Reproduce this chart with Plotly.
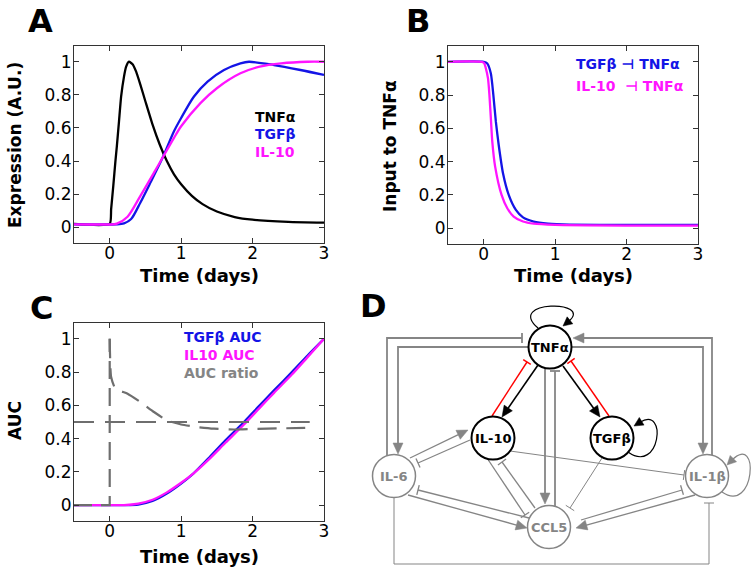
import math
import plotly.graph_objects as go

W, H = 754, 572
FONT = "DejaVu Sans"
BLUE = "#1414e6"
MAG = "#ff14ff"
GRAY = "#858585"
DGRAY = "#6e6e6e"
RED = "#ff0000"

# ---------------- Panel A : expression ----------------
a_tnf_t = [-0.5, 0, 0.02, 0.05, 0.08, 0.1, 0.13, 0.16, 0.2, 0.23, 0.27, 0.32, 0.37, 0.43, 0.5, 0.6, 0.7, 0.8, 0.9, 1.0, 1.15, 1.3, 1.5, 1.75, 2.0, 2.5, 3.0]
a_tnf_v = [0.02, 0.02, 0.11, 0.25, 0.4, 0.49, 0.64, 0.79, 0.91, 0.97, 1.0, 0.985, 0.94, 0.86, 0.76, 0.62, 0.5, 0.4, 0.32, 0.26, 0.19, 0.14, 0.095, 0.062, 0.046, 0.033, 0.028]
a_tgf_t = [-0.5, 0.1, 0.2, 0.3, 0.43, 0.57, 0.74, 0.9, 1.0, 1.18, 1.37, 1.6, 1.83, 1.95, 2.3, 2.67, 3.0]
a_tgf_v = [0.018, 0.018, 0.024, 0.05, 0.15, 0.27, 0.42, 0.58, 0.66, 0.79, 0.88, 0.95, 0.99, 1.0, 0.98, 0.95, 0.92]
a_il10_t = [-0.5, 0.05, 0.1, 0.25, 0.43, 0.62, 0.74, 0.9, 1.0, 1.27, 1.5, 1.83, 2.1, 2.4, 2.77, 3.0]
a_il10_v = [0.018, 0.018, 0.022, 0.064, 0.19, 0.33, 0.42, 0.54, 0.61, 0.75, 0.84, 0.93, 0.97, 0.99, 1.0, 1.0]

# ---------------- Panel B : input to TNFa ----------------
b_tgf_t = [-0.5, 0, 0.05, 0.1, 0.135, 0.17, 0.21, 0.27, 0.35, 0.45, 0.55, 0.7, 0.9, 1.2, 2.0, 3.0]
b_tgf_v = [1.0, 1.0, 0.99, 0.93, 0.8, 0.64, 0.5, 0.33, 0.2, 0.11, 0.065, 0.04, 0.028, 0.022, 0.02, 0.02]
b_il10_t = [-0.5, 0, 0.03, 0.06, 0.08, 0.1, 0.12, 0.16, 0.25, 0.33, 0.42, 0.55, 0.7, 1.0, 2.0, 3.0]
b_il10_v = [1.0, 0.995, 0.96, 0.9, 0.8, 0.66, 0.52, 0.37, 0.2, 0.12, 0.07, 0.04, 0.027, 0.02, 0.016, 0.015]

# ---------------- Panel C : AUC ----------------
c_t = [-0.5, 0, 0.2, 0.4, 0.6, 0.8, 1.0, 1.17, 1.4, 1.62, 1.88, 2.1, 2.3, 2.55, 2.77, 3.0]
c_tgf_auc = [0, 0, 0, 0.004, 0.025, 0.07, 0.13, 0.19, 0.29, 0.39, 0.5, 0.6, 0.69, 0.8, 0.9, 1.0]
c_il10_auc = [0, 0, 0.001, 0.01, 0.033, 0.077, 0.135, 0.19, 0.28, 0.375, 0.485, 0.585, 0.675, 0.785, 0.89, 1.0]
c_ratio_t = [0, 0.02, 0.08, 0.25, 0.43, 0.62, 0.8, 1.0, 1.22, 1.46, 1.74, 2.0, 2.4, 2.85]
c_ratio_v = [1.0, 0.77, 0.7, 0.67, 0.62, 0.56, 0.51, 0.485, 0.47, 0.46, 0.455, 0.458, 0.462, 0.465]
c_onset_t = [-0.5, 0, 0]
c_onset_v = [0, 0, 1]
c_half_t = [-0.5, 2.8]
c_half_v = [0.5, 0.5]

x_ticks = [0, 1, 2, 3]
y_ticks = [0, 0.2, 0.4, 0.6, 0.8, 1]
y_ticktext = ["0", "0.2", "0.4", "0.6", "0.8", "1"]

# ---------------- Panel D : network ----------------
nodes = {
    "TNFα": (550, 347, "black"),
    "IL-10": (493, 438, "black"),
    "TGFβ": (612, 438, "black"),
    "IL-6": (394, 476, "gray"),
    "IL-1β": (707, 476, "gray"),
    "CCL5": (549, 527, "gray"),
}
NODE_R = 21.5

# (polyline points, end type, colour, width)
edges = [
    ([(538, 365), (502, 417)], "arrow", "black", 1.6),
    ([(492, 416), (527, 362)], "tbar", RED, 1.4),
    ([(563, 366), (600, 417)], "arrow", "black", 1.6),
    ([(609, 416), (571, 361)], "tbar", RED, 1.4),
    ([(387, 456), (387, 338), (522, 338)], "tbar", GRAY, 1.8),
    ([(528, 347), (398, 347), (398, 454)], "arrow", GRAY, 1.8),
    ([(712, 456), (712, 338), (573, 338)], "arrow", GRAY, 1.8),
    ([(572, 347), (703, 347), (703, 454)], "arrow", GRAY, 1.8),
    ([(545, 368), (545, 504)], "arrow", GRAY, 1.8),
    ([(555, 506), (555, 371)], "tbar", GRAY, 1.8),
    ([(510, 451), (684, 475)], "tbar", GRAY, 1.0),
    ([(602, 458), (570, 508)], "tbar", GRAY, 1.0),
    ([(487, 458), (525, 515)], "tbar", GRAY, 1.3),
    ([(535, 508), (502, 462)], "tbar", GRAY, 1.3),
    ([(410, 458), (468, 430)], "arrow", GRAY, 1.3),
    ([(470, 440), (418, 463)], "tbar", GRAY, 1.3),
    ([(408, 495), (527, 528)], "arrow", GRAY, 1.3),
    ([(529, 518), (418, 490)], "tbar", GRAY, 1.3),
    ([(695, 495), (576, 528)], "arrow", GRAY, 1.3),
    ([(581, 520), (682, 490)], "tbar", GRAY, 1.3),
    ([(394, 497), (394, 564), (709, 564), (709, 503)], "tbar", GRAY, 1.0),
]
# self loops: cubic bezier (p0, c1, c2, p3)
loops = [
    ((538, 328), (505, 300), (595, 300), (563, 326)),
    ((628, 452), (660, 475), (668, 405), (634, 426)),
    ((722, 492), (755, 515), (760, 432), (727, 465)),
]

fig = go.Figure()


def px_dom_x(a, b):
    return [a / W, b / W]


def px_dom_y(top, bottom):
    return [1 - bottom / H, 1 - top / H]


panels = {
    "": (74, 324, 46, 243),
    "2": (448, 698, 46, 244),
    "3": (74, 324, 323, 521),
}

for key, (x0, x1, y0, y1) in panels.items():
    common = dict(
        showline=True, linecolor="#333333", linewidth=1, mirror="allticks",
        ticks="inside", ticklen=5, tickcolor="#333333", showgrid=False,
        zeroline=False, tickfont=dict(family=FONT, size=17, color="black"),
        automargin=False, fixedrange=True,
    )
    fig.update_layout(**{
        "xaxis" + key: dict(domain=px_dom_x(x0, x1), range=[-0.5, 3], tickvals=x_ticks,
                            ticktext=[str(v) for v in x_ticks], anchor="y" + key,
                            ticklabelstandoff=-5, **common),
        "yaxis" + key: dict(domain=px_dom_y(y0, y1), range=[-0.095, 1.095], tickvals=y_ticks,
                            ticktext=y_ticktext, anchor="x" + key,
                            ticklabelstandoff=-2, **common),
    })

# Panel A traces
fig.add_trace(go.Scatter(x=a_tnf_t, y=a_tnf_v, mode="lines", line=dict(color="black", width=2.3, shape="spline", smoothing=0.5), xaxis="x", yaxis="y"))
fig.add_trace(go.Scatter(x=a_tgf_t, y=a_tgf_v, mode="lines", line=dict(color=BLUE, width=2.3, shape="spline", smoothing=0.8), xaxis="x", yaxis="y"))
fig.add_trace(go.Scatter(x=a_il10_t, y=a_il10_v, mode="lines", line=dict(color=MAG, width=2.3, shape="spline", smoothing=0.8), xaxis="x", yaxis="y"))

# Panel B traces
fig.add_trace(go.Scatter(x=b_tgf_t, y=b_tgf_v, mode="lines", line=dict(color=BLUE, width=2.3, shape="spline", smoothing=0.6), xaxis="x2", yaxis="y2"))
fig.add_trace(go.Scatter(x=b_il10_t, y=b_il10_v, mode="lines", line=dict(color=MAG, width=2.3, shape="spline", smoothing=0.6), xaxis="x2", yaxis="y2"))

# Panel C traces
fig.add_trace(go.Scatter(x=c_t, y=c_tgf_auc, mode="lines", line=dict(color=BLUE, width=2.3, shape="spline", smoothing=0.7), xaxis="x3", yaxis="y3"))
fig.add_trace(go.Scatter(x=c_t, y=c_il10_auc, mode="lines", line=dict(color=MAG, width=2.3, shape="spline", smoothing=0.7), xaxis="x3", yaxis="y3"))
fig.add_trace(go.Scatter(x=c_half_t, y=c_half_v, mode="lines", line=dict(color=DGRAY, width=1.8, dash="20px,11px"), xaxis="x3", yaxis="y3"))
fig.add_trace(go.Scatter(x=c_onset_t, y=c_onset_v, mode="lines", line=dict(color=DGRAY, width=2.2, dash="18px,9px"), xaxis="x3", yaxis="y3"))
fig.add_trace(go.Scatter(x=c_ratio_t, y=c_ratio_v, mode="lines", line=dict(color=DGRAY, width=2.2, dash="19px,10px", shape="spline", smoothing=0.5), xaxis="x3", yaxis="y3"))

# Panel D: hidden axes in window-pixel units
fig.update_layout(
    xaxis4=dict(domain=[0, 1], range=[0, W], visible=False, anchor="y4", fixedrange=True),
    yaxis4=dict(domain=[0, 1], range=[H, 0], visible=False, anchor="x4", fixedrange=True),
)
fig.add_trace(go.Scatter(x=[1], y=[1], mode="markers", marker=dict(opacity=0), xaxis="x4", yaxis="y4", hoverinfo="skip"))

shapes = []


def add_path(d, color, width, fill=None):
    shapes.append(dict(type="path", path=d, xref="x4", yref="y4",
                       line=dict(color=color, width=width),
                       fillcolor=fill if fill else "rgba(0,0,0,0)", layer="above"))


def arrow_head(tip, frm, color, L=11, w=5):
    dx, dy = tip[0] - frm[0], tip[1] - frm[1]
    n = math.hypot(dx, dy)
    ux, uy = dx / n, dy / n
    bx, by = tip[0] - ux * L, tip[1] - uy * L
    px, py = -uy * w, ux * w
    d = f"M {tip[0]:.2f},{tip[1]:.2f} L {bx+px:.2f},{by+py:.2f} L {bx-px:.2f},{by-py:.2f} Z"
    add_path(d, color, 0.5, fill=color)
    return (bx + ux * 2, by + uy * 2)


def tbar(end, frm, color, width, half=5):
    dx, dy = end[0] - frm[0], end[1] - frm[1]
    n = math.hypot(dx, dy)
    ux, uy = dx / n, dy / n
    px, py = -uy * half, ux * half
    d = f"M {end[0]+px:.2f},{end[1]+py:.2f} L {end[0]-px:.2f},{end[1]-py:.2f}"
    add_path(d, color, width)


for pts, kind, color, width in edges:
    pts = list(pts)
    if kind == "arrow":
        L = 11 if width > 1.2 else 9
        base = arrow_head(pts[-1], pts[-2], color, L=L, w=5)
        pts[-1] = base
    else:
        tbar(pts[-1], pts[-2], color, width, half=5 if color != RED else 4.5)
    d = "M " + " L ".join(f"{x:.2f},{y:.2f}" for x, y in pts)
    add_path(d, color, width)

for i, (p0, c1, c2, p3) in enumerate(loops):
    col = "black" if i < 2 else GRAY
    base = arrow_head(p3, c2, col, L=9, w=4.5)
    d = f"M {p0[0]},{p0[1]} C {c1[0]},{c1[1]} {c2[0]},{c2[1]} {base[0]:.2f},{base[1]:.2f}"
    add_path(d, col, 1.2)

annotations = []


def to_paper(x, y):
    return x / W, 1 - y / H


for name, (cx, cy, kind) in nodes.items():
    col = "black" if kind == "black" else GRAY
    shapes.append(dict(type="circle", xref="x4", yref="y4",
                       x0=cx - NODE_R, x1=cx + NODE_R, y0=cy - NODE_R, y1=cy + NODE_R,
                       line=dict(color=col, width=2 if kind == "black" else 1.5),
                       fillcolor="white", layer="above"))
    px_, py_ = to_paper(cx, cy)
    annotations.append(dict(x=px_, y=py_, xref="paper", yref="paper", text=f"<b>{name}</b>",
                            showarrow=False, font=dict(family=FONT, size=13, color=col),
                            xanchor="center", yanchor="middle"))


def label(x, y, text, size, color="black", xanchor="center", angle=0):
    px_, py_ = to_paper(x, y)
    annotations.append(dict(x=px_, y=py_, xref="paper", yref="paper", text=text,
                            showarrow=False, font=dict(family=FONT, size=size, color=color),
                            xanchor=xanchor, yanchor="middle", textangle=angle))


# panel letters
label(40, 21, "<b>A</b>", 32)
label(418, 21, "<b>B</b>", 32)
label(41, 308, "<b>C</b>", 32)
label(373, 306, "<b>D</b>", 32)

# axis titles
label(15, 145, "<b>Expression (A.U.)</b>", 17, angle=-90)
label(199, 275, "<b>Time (days)</b>", 18)
label(390, 146, "<b>Input to TNFα</b>", 17, angle=-90)
label(573, 275, "<b>Time (days)</b>", 18)
label(15, 421, "<b>AUC</b>", 17, angle=-90)
label(199, 556, "<b>Time (days)</b>", 18)

# in-plot legends
label(253, 117, "<b>TNFα</b>", 14, "black", "left")
label(253, 134, "<b>TGFβ</b>", 14, BLUE, "left")
label(253, 152, "<b>IL-10</b>", 14, MAG, "left")
label(574, 64, "<b>TGFβ ⊣ TNFα</b>", 14, BLUE, "left")
label(574, 86, "<b>IL-10\u00a0 ⊣ TNFα</b>", 14, MAG, "left")
label(182, 337, "<b>TGFβ AUC</b>", 14, BLUE, "left")
label(182, 355, "<b>IL10 AUC</b>", 14, MAG, "left")
label(182, 373, "<b>AUC ratio</b>", 14, GRAY, "left")

fig.update_layout(
    width=W, height=H, margin=dict(l=0, r=0, t=0, b=0),
    paper_bgcolor="white", plot_bgcolor="rgba(0,0,0,0)",
    showlegend=False, template="none",
    font=dict(family=FONT, color="black"),
    shapes=shapes, annotations=annotations,
)

fig.write_html(
    "out.html",
    config={"displayModeBar": False},
    post_script="document.body.style.margin='0';document.body.style.overflow='hidden';",
)
